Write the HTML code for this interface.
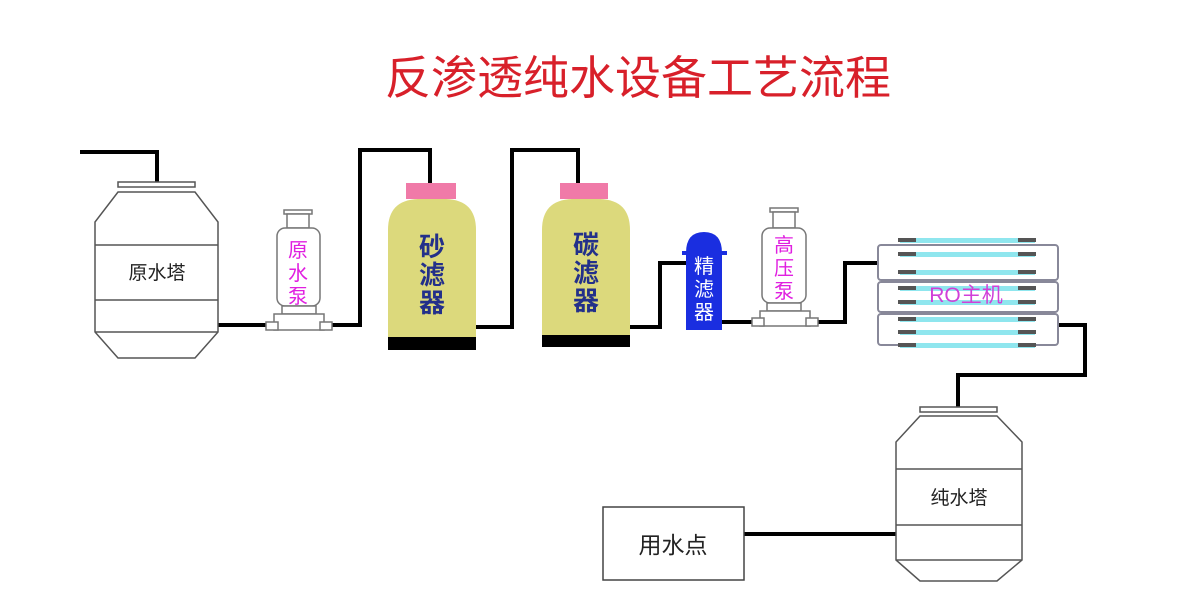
<!DOCTYPE html>
<html><head><meta charset="utf-8"><style>
html,body{margin:0;padding:0;background:#fff;}
svg{display:block;}
text{font-family:"Liberation Sans","Noto Sans CJK SC",sans-serif;}
</style></head><body>
<svg width="1180" height="594" viewBox="0 0 1180 594" xmlns="http://www.w3.org/2000/svg">
<rect width="1180" height="594" fill="#fff"/>
<text x="638" y="94" font-size="46" fill="#d8202a" text-anchor="middle">反渗透纯水设备工艺流程</text>

<!-- pipes -->
<g stroke="#000" stroke-width="4" fill="none">
<polyline points="80,152 157,152 157,184"/>
<polyline points="218,325 272,325"/>
<polyline points="328,325 360,325 360,150 430,150 430,184"/>
<polyline points="476,327 512,327 512,150 578,150 578,184"/>
<polyline points="630,327 660,327 660,263 688,263"/>
<polyline points="722,322 757,322"/>
<polyline points="813,322 845,322 845,263 878,263"/>
<polyline points="1058,325 1085,325 1085,375 958,375 958,408"/>
<polyline points="744,534 896,534"/>
</g>

<!-- raw tank -->
<g stroke="#555" stroke-width="1.5" fill="#fff">
<rect x="118" y="182" width="77" height="5"/>
<path d="M118,192 L195,192 L218,222 L218,332 L195,358 L118,358 L95,332 L95,222 Z"/>
<line x1="95" y1="245" x2="218" y2="245"/>
<line x1="95" y1="300" x2="218" y2="300"/>
<line x1="95" y1="332" x2="218" y2="332"/>
</g>
<text x="157" y="279" font-size="19" fill="#222" text-anchor="middle">原水塔</text>

<!-- pump 1 -->
<g stroke="#777" stroke-width="1.5" fill="#fff">
<rect x="284" y="210" width="28" height="4"/>
<rect x="287" y="214" width="22" height="14"/>
<rect x="277" y="228" width="43" height="78" rx="8"/>
<rect x="282" y="306" width="34" height="8"/>
<path d="M274,314 L324,314 L324,330 L274,330 Z"/>
<rect x="266" y="322" width="12" height="8"/>
<rect x="320" y="322" width="12" height="8"/>
</g>
<text font-size="20" fill="#e020e0" text-anchor="middle"><tspan x="298" y="257">原</tspan><tspan x="298" y="280">水</tspan><tspan x="298" y="303">泵</tspan></text>

<!-- sand filter -->
<rect x="406" y="183" width="50" height="16" fill="#f07aa8"/>
<path d="M388,337 L388,230 Q388,200 418,199 L446,199 Q476,200 476,230 L476,337 Z" fill="#dcd97c"/>
<rect x="388" y="337" width="88" height="13" fill="#000"/>
<text font-size="26" font-weight="bold" fill="#23308a" text-anchor="middle"><tspan x="432" y="256">砂</tspan><tspan x="432" y="284">滤</tspan><tspan x="432" y="312">器</tspan></text>

<!-- carbon filter -->
<rect x="560" y="183" width="48" height="16" fill="#f07aa8"/>
<path d="M542,335 L542,230 Q542,200 572,199 L600,199 Q630,200 630,230 L630,335 Z" fill="#dcd97c"/>
<rect x="542" y="335" width="88" height="12" fill="#000"/>
<text font-size="26" font-weight="bold" fill="#23308a" text-anchor="middle"><tspan x="586" y="254">碳</tspan><tspan x="586" y="282">滤</tspan><tspan x="586" y="310">器</tspan></text>

<!-- precision filter -->
<path d="M686,330 L686,253 Q686,232 704,232 Q722,232 722,253 L722,330 Z" fill="#1a2ee0"/>
<rect x="682" y="251" width="45" height="4" fill="#1a2ee0"/>
<text font-size="20" fill="#fff" text-anchor="middle"><tspan x="704" y="273">精</tspan><tspan x="704" y="296">滤</tspan><tspan x="704" y="319">器</tspan></text>

<!-- pump 2 -->
<g stroke="#777" stroke-width="1.5" fill="#fff">
<rect x="770" y="208" width="28" height="4"/>
<rect x="773" y="212" width="22" height="16"/>
<rect x="762" y="228" width="44" height="75" rx="8"/>
<rect x="767" y="303" width="34" height="8"/>
<path d="M760,311 L810,311 L810,326 L760,326 Z"/>
<rect x="752" y="318" width="12" height="8"/>
<rect x="806" y="318" width="12" height="8"/>
</g>
<text font-size="20" fill="#e020e0" text-anchor="middle"><tspan x="784" y="252">高</tspan><tspan x="784" y="275">压</tspan><tspan x="784" y="298">泵</tspan></text>

<!-- RO -->
<g fill="none" stroke="#889" stroke-width="2">
<rect x="878" y="245" width="180" height="35" rx="3"/>
<rect x="878" y="282" width="180" height="30" rx="3"/>
<rect x="878" y="314" width="180" height="31" rx="3"/>
</g>
<g fill="#8fe6ee">
<rect x="900" y="238" width="135" height="5"/>
<rect x="900" y="252" width="135" height="5"/>
<rect x="900" y="270" width="135" height="5"/>
<rect x="900" y="286" width="135" height="5"/>
<rect x="900" y="300" width="135" height="5"/>
<rect x="900" y="317" width="135" height="5"/>
<rect x="900" y="330" width="135" height="5"/>
<rect x="900" y="343" width="135" height="5"/>
</g>
<g fill="#555">
<rect x="898" y="238" width="18" height="4"/><rect x="1018" y="238" width="18" height="4"/>
<rect x="898" y="252" width="18" height="4"/><rect x="1018" y="252" width="18" height="4"/>
<rect x="898" y="270" width="18" height="4"/><rect x="1018" y="270" width="18" height="4"/>
<rect x="898" y="286" width="18" height="4"/><rect x="1018" y="286" width="18" height="4"/>
<rect x="898" y="300" width="18" height="4"/><rect x="1018" y="300" width="18" height="4"/>
<rect x="898" y="317" width="18" height="4"/><rect x="1018" y="317" width="18" height="4"/>
<rect x="898" y="330" width="18" height="4"/><rect x="1018" y="330" width="18" height="4"/>
<rect x="898" y="343" width="18" height="4"/><rect x="1018" y="343" width="18" height="4"/>
</g>
<text x="966" y="302" font-size="21" fill="#d040d8" text-anchor="middle">RO主机</text>

<!-- pure tank -->
<g stroke="#555" stroke-width="1.5" fill="#fff">
<rect x="920" y="407" width="77" height="5"/>
<path d="M920,416 L997,416 L1022,442 L1022,560 L997,581 L920,581 L896,560 L896,442 Z"/>
<line x1="896" y1="469" x2="1022" y2="469"/>
<line x1="896" y1="525" x2="1022" y2="525"/>
<line x1="896" y1="560" x2="1022" y2="560"/>
</g>
<text x="959" y="504" font-size="19" fill="#222" text-anchor="middle">纯水塔</text>

<!-- use point -->
<rect x="603" y="507" width="141" height="73" fill="#fff" stroke="#444" stroke-width="1.5"/>
<text x="673" y="553" font-size="23" fill="#222" text-anchor="middle">用水点</text>
</svg>
</body></html>
